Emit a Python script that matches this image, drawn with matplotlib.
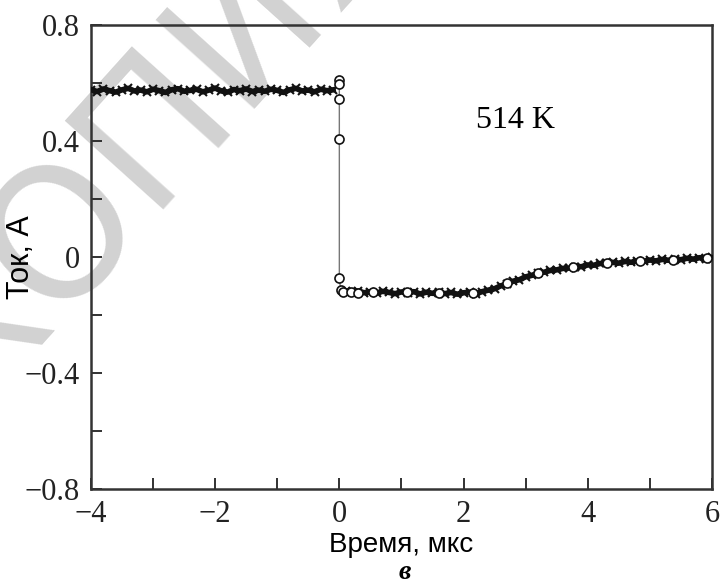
import numpy as np
import matplotlib
matplotlib.use("Agg")
import matplotlib.pyplot as plt
from matplotlib.ticker import MultipleLocator

plt.rcParams.update({
    "font.family": "Liberation Serif",
    "font.size": 22,
    "figure.dpi": 100,
})

# dense trace, before the switch (t = -4.0 ... -0.1, step 0.1)
t_pre = np.round(np.arange(-4.0, -0.05, 0.1), 2)
i_pre = [0.578, 0.571, 0.580, 0.574, 0.569, 0.577, 0.582, 0.573, 0.576, 0.570,
         0.579, 0.574, 0.568, 0.577, 0.581, 0.572, 0.575, 0.579, 0.570, 0.576,
         0.583, 0.573, 0.569, 0.578, 0.574, 0.580, 0.571, 0.576, 0.572, 0.579,
         0.575, 0.568, 0.577, 0.582, 0.573, 0.576, 0.570, 0.579, 0.574, 0.577]

# dense trace, after the switch (t = 0.1 ... 6.0, step 0.1)
t_post = np.round(np.arange(0.1, 6.05, 0.1), 2)
i_post = [-0.116, -0.121, -0.117, -0.123, -0.119, -0.124, -0.118, -0.122, -0.126, -0.120,
          -0.124, -0.119, -0.127, -0.121, -0.125, -0.120, -0.126, -0.122, -0.128, -0.123,
          -0.121, -0.126, -0.119, -0.114, -0.109, -0.099, -0.093, -0.083, -0.078, -0.068,
          -0.063, -0.055, -0.052, -0.046, -0.044, -0.039, -0.038, -0.033, -0.033, -0.027,
          -0.028, -0.022, -0.022, -0.018, -0.021, -0.015, -0.018, -0.013, -0.015, -0.010,
          -0.013, -0.008, -0.011, -0.006, -0.009, -0.004, -0.007, -0.002, -0.005, -0.001]

# sampled points (open circles)
t_circ = [-0.01, 0.0, 0.0, 0.0, 0.0, 0.02, 0.06, 0.18, 0.3, 0.54, 1.09, 1.6,
          2.15, 2.7, 3.2, 3.76, 4.31, 4.84, 5.37, 5.92]
i_circ = [0.61, 0.597, 0.545, 0.407, -0.072, -0.114, -0.120, -0.121, -0.124, -0.122,
          -0.121, -0.124, -0.123, -0.090, -0.056, -0.035, -0.022, -0.014, -0.009, -0.002]

fig = plt.figure(figsize=(7.22, 5.85))
ax = fig.add_axes([0.126, 0.164, 0.86, 0.793])

ax.plot(t_circ, i_circ, "-", color="#777777", lw=1.0, zorder=2)
for tt, ii in ((t_pre, i_pre), (t_post, i_post)):
    ax.plot(tt, ii, "-", color="#111111", lw=4.0, marker="x", ms=5.5, mew=1.5,
            zorder=3)
ax.plot(t_circ, i_circ, "o", ms=6.5, mfc="white", mec="#111111", mew=1.2,
        ls="none", zorder=4)

ax.set_xlim(-4, 6)
ax.set_ylim(-0.8, 0.8)
ax.xaxis.set_minor_locator(MultipleLocator(1))
ax.yaxis.set_minor_locator(MultipleLocator(0.2))
ax.set_yticks([-0.8, -0.4, 0, 0.4, 0.8])
ax.set_yticklabels(["\u22120.8", "\u22120.4", "0", "0.4", "0.8"])
ax.set_xticks([-4, -2, 0, 2, 4, 6])
ax.set_xticklabels(["\u22124", "\u22122", "0", "2", "4", "6"])
ax.tick_params(which="both", direction="in", length=8, width=1.3,
               top=False, right=False, colors="#222222", pad=8)
for s in ax.spines.values():
    s.set_linewidth(1.8)
    s.set_color("#333333")

ax.set_xlabel("Время, мкс", family="Liberation Sans", fontsize=20, labelpad=2)
ax.set_ylabel("Ток, А", family="Liberation Sans", fontsize=22)
ax.yaxis.set_label_coords(-0.088, 0.5)
ax.text(2.2, 0.47, "514 K", fontsize=23, va="center", ha="left")
fig.text(0.56, 0.022, "в", fontsize=20, style="italic", weight="bold",
         ha="center", va="center")

# watermark
ax.text(0.21, 0.78, "КОПИЯ", transform=fig.transFigure, family="DejaVu Sans",
        fontsize=130, color="#d2d2d2", rotation=48, ha="center", va="center",
        zorder=1, clip_on=False)

fig.savefig("out.png", dpi=100)
